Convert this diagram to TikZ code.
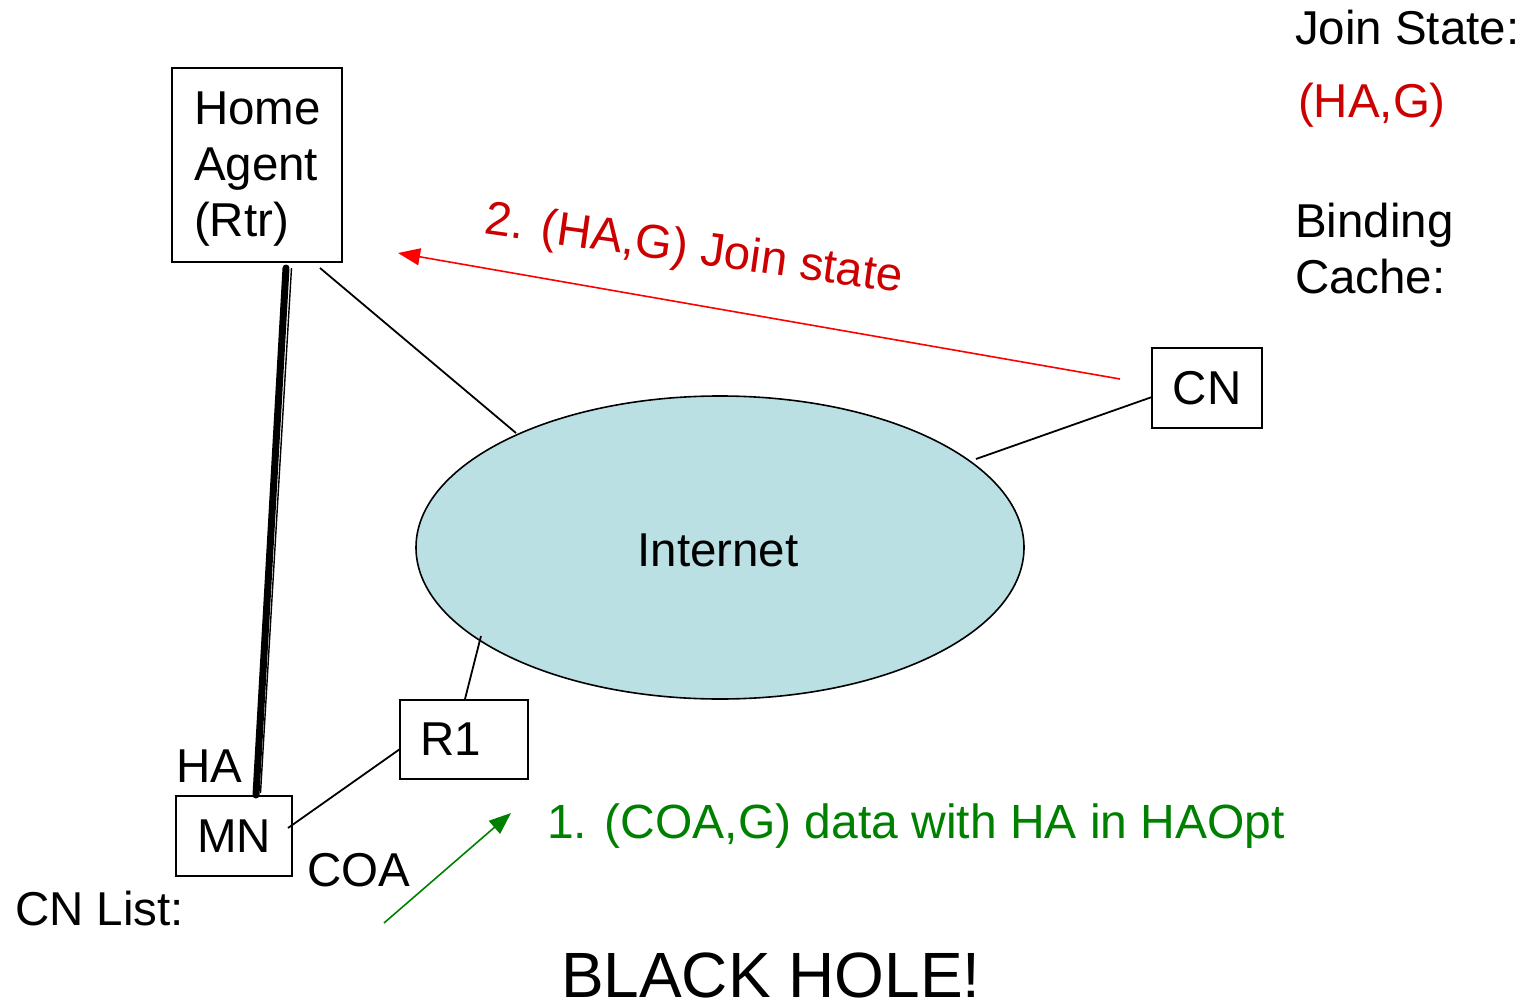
\documentclass[tikz,border=0pt]{standalone}
\usepackage{fontspec}
\setmainfont{Liberation Sans}
\usetikzlibrary{arrows.meta,shapes.geometric}
\definecolor{netfill}{RGB}{186,224,228}
\definecolor{msgred}{RGB}{204,0,0}
\definecolor{lnred}{RGB}{255,0,0}
\definecolor{msggreen}{RGB}{0,128,0}

\begin{document}
\begin{tikzpicture}[x=1pt,y=-1pt,
  every node/.style={font=\fontsize{47.5}{56}\selectfont, inner sep=0pt, outer sep=0pt},
  box/.style={draw, line width=1.8pt, fill=white},
  link/.style={line width=1.8pt},
  txt/.style={anchor=base west},
  msgarrow/.style={line width=1.6pt, -{Triangle[length=22pt,width=17pt]}}]
\useasboundingbox (0,0) rectangle (1528,1003);

% the Internet cloud
\node[draw, line width=1.6pt, fill=netfill, ellipse,
      minimum width=608, minimum height=303] (net) at (720,547.5) {};
\node[anchor=base] (nettext) at (718,566) {Internet};

% routers and hosts
\node[box, minimum width=170, minimum height=194] (ha) at (257,165) {};
\node[anchor=north west, align=left] (hatext) at (194,91.5) {Home\\Agent\\(Rtr)};
\node[box, minimum width=110, minimum height=80] (cn) at (1207,388) {CN};
\node[box, minimum width=128, minimum height=79, text width=88,
      align=left, inner xsep=20pt] (r1) at (464,739.5) {R1};
\node[box, minimum width=116, minimum height=80] (mn) at (234,836) {MN};

% link end points
\coordinate (haA) at (320,268);
\coordinate (netA) at (516,433);
\coordinate (cnA) at (1152,397);
\coordinate (netB) at (976,459);
\coordinate (r1A) at (465,699);
\coordinate (netC) at (481,636);
\coordinate (mnA) at (288,828);
\coordinate (r1B) at (400,749);

\draw[link] (haA) -- (netA);
\draw[link] (cnA) -- (netB);
\draw[link] (r1A) -- (netC);
\draw[link] (mnA) -- (r1B);

% tunnel between home agent and mobile node
\coordinate (tunTop) at (286,268);
\coordinate (tunBot) at (256,795);
\coordinate (tunTop2) at (291.5,268);
\coordinate (tunBot2) at (260.5,793);
\draw[line width=7pt, line cap=round] (tunTop) -- (tunBot);
\draw[line width=1.4pt] (tunTop2) -- (tunBot2);

% labels
\node[txt] (halbl) at (176,782) {HA};
\node[txt] (coalbl) at (307,886) {COA};
\node[txt] (cnlist) at (15,925) {CN List:};
\node[txt] (joinst) at (1295,45) {Join State:};
\node[txt, text=msgred] (joinent) at (1298,118) {(HA,G)};
\node[txt] (bind1) at (1295,237) {Binding};
\node[txt] (bind2) at (1295,293) {Cache:};
\node[txt, font=\fontsize{64}{70}\selectfont] (hole) at (561,997) {BLACK HOLE!};

% messages
\coordinate (redS) at (1120,379);
\coordinate (redE) at (398,253);
\draw[msgarrow, lnred] (redS) -- (redE);
\node[txt, text=msgred, rotate=-8] (redmsg) at (483,234) {2. (HA,G) Join state};

\coordinate (grS) at (384,923);
\coordinate (grE) at (511,813);
\draw[msgarrow, msggreen] (grS) -- (grE);
\node[txt, text=msggreen, font=\fontsize{48}{56}\selectfont] (grmsg) at (547,838) {1. (COA,G) data with HA in HAOpt};
\end{tikzpicture}
\end{document}
